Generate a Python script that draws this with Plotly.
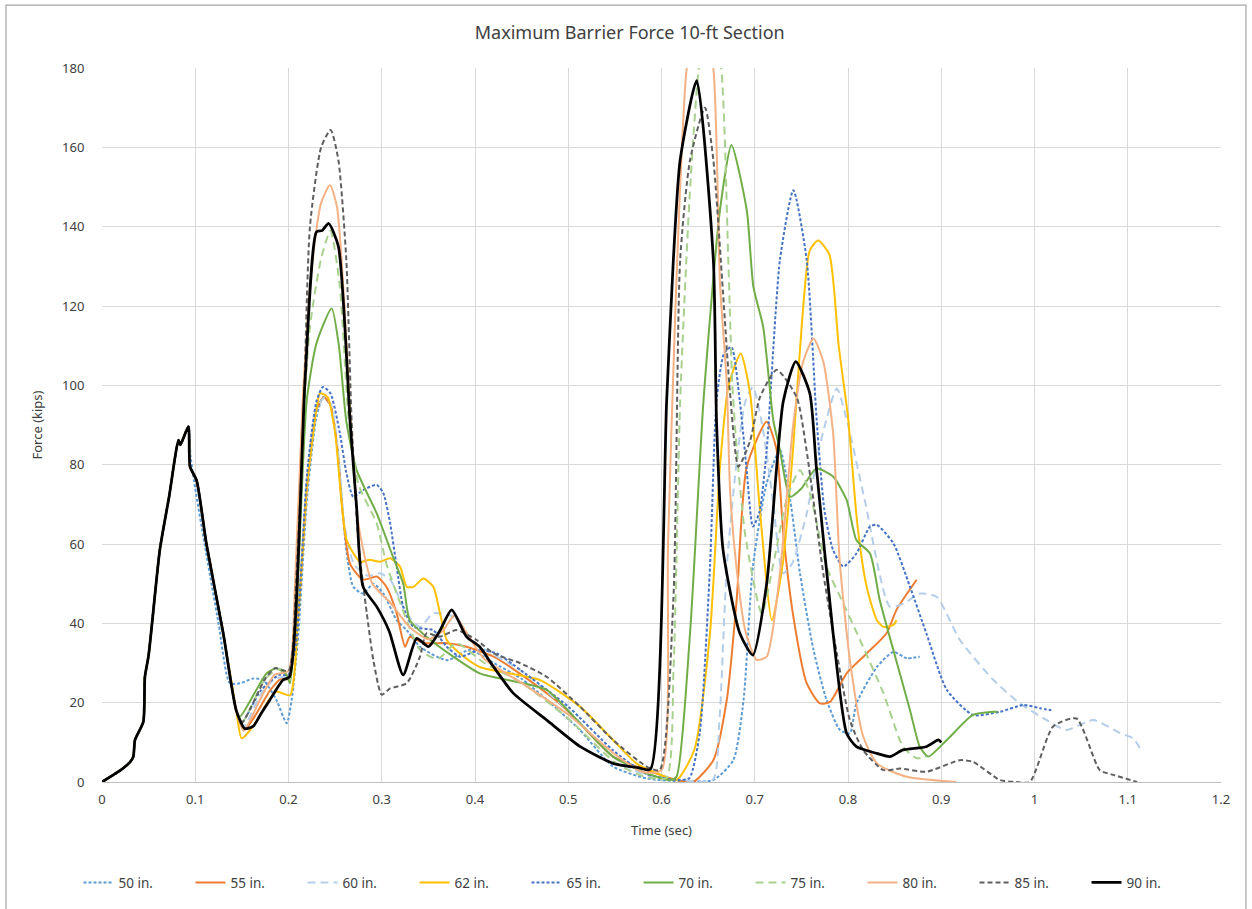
import plotly.graph_objects as go

# shared rising part (all runs coincide up to the first peak)
t_start = [0, 0.01, 0.02, 0.03, 0.0336, 0.0354, 0.0443, 0.046, 0.05, 0.062, 0.072, 0.082, 0.084, 0.0926]
f_start = [0, 1.5, 3, 5, 6.4, 10.6, 15.2, 26.5, 32, 58.5, 72, 86.2, 85, 89.6]

t50 = [0.095, 0.1, 0.11, 0.125, 0.137, 0.148, 0.1623, 0.173, 0.187, 0.198, 0.2034, 0.2106, 0.22, 0.23, 0.237, 0.245, 0.252, 0.2624, 0.2695, 0.28, 0.291, 0.3017, 0.316, 0.3267, 0.341, 0.3697, 0.3946, 0.42, 0.45, 0.477, 0.5126, 0.548, 0.584, 0.62, 0.6556, 0.677, 0.688, 0.698, 0.7128, 0.727, 0.738, 0.7485, 0.763, 0.777, 0.7914, 0.802, 0.809, 0.831, 0.8486, 0.863, 0.877]
f50 = [82, 74, 60, 40, 24.9, 24.9, 26.1, 25.7, 20.7, 14.8, 20.7, 37.5, 72, 92, 97, 95, 85, 57.6, 49.2, 47.5, 50, 47.5, 40.8, 38.3, 34.1, 30.7, 33.3, 30, 26, 20.7, 13.1, 3.9, 0.9, 0.2, 0.5, 5.5, 20.7, 54.3, 75.3, 83.7, 71.1, 52.6, 33.3, 20.7, 13.1, 12.3, 19.8, 29, 32.8, 31.2, 31.6]

t55 = [0.0944, 0.1015, 0.112, 0.13, 0.144, 0.152, 0.165, 0.18, 0.192, 0.2, 0.21, 0.22, 0.23, 0.238, 0.245, 0.252, 0.258, 0.266, 0.28, 0.2946, 0.305, 0.316, 0.325, 0.33, 0.3375, 0.348, 0.3697, 0.391, 0.42, 0.45, 0.4947, 0.548, 0.584, 0.62, 0.634, 0.6556, 0.67, 0.6806, 0.6914, 0.7128, 0.7235, 0.7306, 0.7414, 0.7557, 0.77, 0.7807, 0.7985, 0.82, 0.8414, 0.852, 0.8736]
f55 = [79.5, 76, 60, 37.5, 18, 13, 17, 23, 26, 26, 42, 75, 94, 97, 95, 85, 68, 55, 51, 51.8, 49.2, 42.5, 34.1, 36.6, 35.8, 35, 35, 34.1, 31.6, 27, 19, 6.4, 3, 0.3, 0, 5.5, 20.7, 45.9, 79.5, 90.8, 83.7, 62.7, 41.7, 24.9, 19.8, 20.2, 27.4, 32.4, 37.5, 43.4, 51]

t60 = [0.0944, 0.1015, 0.112, 0.13, 0.144, 0.152, 0.17, 0.185, 0.2, 0.21, 0.22, 0.23, 0.239, 0.246, 0.253, 0.26, 0.27, 0.285, 0.298, 0.309, 0.3267, 0.341, 0.355, 0.3767, 0.4, 0.45, 0.5, 0.55, 0.58, 0.62, 0.655, 0.662, 0.67, 0.68, 0.69, 0.698, 0.708, 0.72, 0.73, 0.74, 0.7557, 0.77, 0.788, 0.8, 0.818, 0.845, 0.86, 0.877, 0.895, 0.92, 0.956, 0.9845, 1.013, 1.034, 1.063, 1.092, 1.106, 1.115]
f60 = [79.5, 76, 60, 37.5, 18, 14, 22, 26, 27, 44, 76, 94, 97, 95, 84, 65, 55, 52, 52.6, 51, 42.5, 39.1, 42.5, 41.7, 35, 28, 18, 6, 2, 0.5, 0.5, 15, 54.3, 79.5, 96, 99.6, 90, 70, 52.6, 55, 67.7, 85, 99.2, 90, 71, 44.2, 45, 47.5, 46.7, 35.8, 25.7, 19.8, 15.6, 13.1, 15.6, 12.3, 11, 7.6]

t62 = [0.0944, 0.1015, 0.112, 0.13, 0.144, 0.1498, 0.165, 0.1766, 0.187, 0.2016, 0.21, 0.22, 0.23, 0.2338, 0.242, 0.25, 0.2624, 0.2767, 0.287, 0.298, 0.309, 0.3196, 0.3267, 0.334, 0.3446, 0.3553, 0.3625, 0.3697, 0.384, 0.405, 0.4697, 0.5126, 0.548, 0.573, 0.595, 0.616, 0.635, 0.652, 0.6627, 0.672, 0.685, 0.695, 0.705, 0.7184, 0.73, 0.741, 0.7485, 0.759, 0.768, 0.78, 0.79, 0.8, 0.81, 0.82, 0.831, 0.838, 0.8486, 0.852]
f62 = [79.5, 76, 60, 37.5, 18, 11, 15, 19.8, 22.8, 21.9, 40, 75, 94, 98, 97, 88, 61, 55.5, 56, 55.5, 56.4, 54.3, 49.2, 49.2, 51.3, 49.2, 42.5, 35.8, 32.4, 29, 25.7, 19, 10.6, 4.7, 2.2, 0.5, 8, 37.5, 79.5, 100, 108, 98, 70, 40.8, 55, 83.7, 109, 134, 136.5, 133, 110, 92, 65, 49.2, 40.8, 39.1, 39.6, 40.8]

t65 = [0.0944, 0.1015, 0.112, 0.13, 0.144, 0.15, 0.17, 0.19, 0.2, 0.208, 0.22, 0.23, 0.237, 0.245, 0.255, 0.262, 0.2695, 0.28, 0.2946, 0.3017, 0.309, 0.316, 0.323, 0.334, 0.355, 0.3697, 0.384, 0.405, 0.4233, 0.45, 0.5, 0.548, 0.584, 0.62, 0.63, 0.641, 0.652, 0.659, 0.667, 0.675, 0.684, 0.691, 0.698, 0.705, 0.7128, 0.727, 0.7414, 0.7557, 0.7664, 0.775, 0.784, 0.795, 0.809, 0.8236, 0.831, 0.8486, 0.8665, 0.884, 0.906, 0.934, 0.963, 0.988, 1.006, 1.018]
f65 = [79.5, 76, 60, 37.5, 18, 15, 23, 27, 27, 35, 78, 96, 99.6, 98, 88, 78, 71.9, 73.6, 74.9, 72.8, 65.2, 54.3, 44.2, 39.1, 38.3, 34.1, 31.6, 33.3, 32.4, 28, 19, 8, 2, 0.5, 1, 12.3, 54.3, 96, 108, 109.7, 96, 79.5, 64.4, 68, 83.7, 131.6, 149.2, 131.6, 91.2, 68, 58.5, 54.3, 57.6, 64.4, 64.8, 60.2, 49.2, 37.5, 23.2, 16.9, 17.7, 19.4, 18.6, 18.1]

t70 = [0.0944, 0.1015, 0.112, 0.13, 0.144, 0.148, 0.165, 0.1766, 0.187, 0.198, 0.2016, 0.209, 0.2195, 0.23, 0.2463, 0.254, 0.262, 0.273, 0.2946, 0.312, 0.323, 0.33, 0.348, 0.3767, 0.405, 0.45, 0.477, 0.5126, 0.548, 0.584, 0.609, 0.616, 0.6306, 0.645, 0.6627, 0.675, 0.6914, 0.6985, 0.709, 0.72, 0.727, 0.7378, 0.75, 0.766, 0.784, 0.7985, 0.809, 0.8236, 0.834, 0.8486, 0.8665, 0.877, 0.886, 0.906, 0.934, 0.956, 0.96]
f70 = [79.5, 76, 60, 37.5, 18, 16.5, 23, 27.4, 28.7, 27, 24.9, 45.9, 96, 110.6, 119.4, 110, 91, 78.7, 67.7, 56.8, 50, 40.8, 36.6, 31.6, 27.4, 25, 23.2, 14.8, 6.4, 2.2, 0.5, 1.3, 37.5, 96, 144.2, 160.6, 144.2, 124.9, 114.8, 91, 83.7, 71.9, 74, 79, 77, 71.1, 61, 57.6, 45.9, 33.3, 18.1, 8.9, 6.4, 10.6, 16.9, 17.7, 17.7]

t75 = [0.0944, 0.1015, 0.112, 0.13, 0.144, 0.15, 0.175, 0.19, 0.2, 0.208, 0.216, 0.223, 0.235, 0.245, 0.255, 0.265, 0.275, 0.2946, 0.305, 0.32, 0.341, 0.36, 0.38, 0.41, 0.45, 0.5, 0.55, 0.58, 0.605, 0.613, 0.62, 0.63, 0.64, 0.651, 0.664, 0.6716, 0.676, 0.682, 0.69, 0.7075, 0.72, 0.735, 0.7485, 0.76, 0.777, 0.795, 0.8129, 0.838, 0.859, 0.8736, 0.884]
f75 = [79.5, 76, 60, 37.5, 18, 15, 26, 28.5, 28, 45, 91, 114.8, 132, 139, 125, 90, 75, 65.2, 55, 45, 33.3, 31, 35, 30, 25, 16, 5, 1.5, 1, 29, 96, 147, 180, 195, 180, 131.6, 100, 80, 62, 42.5, 55, 72, 78.6, 72, 54.3, 45, 35.8, 22.4, 8.9, 6, 6.4]

t80 = [0.0944, 0.1015, 0.112, 0.13, 0.144, 0.152, 0.17, 0.185, 0.2, 0.207, 0.215, 0.225, 0.235, 0.2445, 0.252, 0.26, 0.267, 0.275, 0.29, 0.31, 0.33, 0.35, 0.365, 0.378, 0.39, 0.41, 0.45, 0.5, 0.55, 0.58, 0.6, 0.607, 0.615, 0.627, 0.641, 0.6556, 0.6627, 0.67, 0.6735, 0.68, 0.69, 0.702, 0.7128, 0.727, 0.741, 0.752, 0.763, 0.7735, 0.784, 0.791, 0.802, 0.8164, 0.831, 0.863, 0.9165]
f80 = [79.5, 76, 60, 37.5, 18, 13, 21, 27, 28, 50, 95, 130, 146, 150.5, 145, 120, 90, 65, 50, 45, 39, 36, 38, 42, 38, 31, 25, 17, 7, 2.5, 3, 60, 120, 180, 198, 180, 125.7, 100.5, 73.6, 55, 38, 30.8, 31.6, 52.6, 89.6, 106, 111.8, 106, 88, 56, 30.8, 11.4, 4.7, 1.3, 0]

t85 = [0.0944, 0.1015, 0.112, 0.13, 0.144, 0.15, 0.175, 0.1855, 0.2, 0.208, 0.216, 0.223, 0.235, 0.2452, 0.2535, 0.262, 0.2677, 0.275, 0.284, 0.291, 0.3, 0.309, 0.3267, 0.341, 0.348, 0.362, 0.38, 0.4018, 0.42, 0.448, 0.477, 0.5126, 0.548, 0.584, 0.598, 0.6127, 0.62, 0.6306, 0.6466, 0.6556, 0.666, 0.6735, 0.6825, 0.695, 0.7056, 0.7235, 0.745, 0.7555, 0.7735, 0.788, 0.802, 0.8164, 0.838, 0.856, 0.884, 0.92, 0.934, 0.963, 0.98, 0.995, 1.02, 1.045, 1.07, 1.0845, 1.11]
f85 = [79.5, 76, 60, 37.5, 18, 15, 26, 28.7, 28, 50, 91, 140, 160, 164.4, 156.8, 131.6, 91, 60, 42.5, 30.7, 22, 23.6, 24.9, 31.6, 37.5, 36.6, 38.3, 35.8, 32.4, 30, 26.5, 19, 10.6, 3.9, 3, 45.9, 131.6, 156.8, 170, 156.8, 123.2, 98, 79.5, 86, 97, 103.9, 97, 83.7, 52.6, 32.4, 15.6, 8, 3, 3.4, 2.6, 5.5, 5.1, 0.5, 0, 0, 14, 16, 3, 1.8, 0]

t90 = [0.0944, 0.1015, 0.112, 0.13, 0.144, 0.153, 0.162, 0.17, 0.18, 0.194, 0.201, 0.2177, 0.23, 0.236, 0.243, 0.2535, 0.266, 0.273, 0.28, 0.2946, 0.308, 0.323, 0.3375, 0.35, 0.362, 0.375, 0.391, 0.405, 0.42, 0.441, 0.477, 0.513, 0.548, 0.575, 0.588, 0.6055, 0.6127, 0.62, 0.6377, 0.6556, 0.659, 0.666, 0.684, 0.698, 0.7128, 0.7306, 0.744, 0.759, 0.766, 0.784, 0.7985, 0.809, 0.831, 0.845, 0.859, 0.884, 0.897, 0.9]
f90 = [79.5, 76, 60, 37.5, 18, 13.5, 14, 17, 20.7, 25.7, 26.5, 101, 138.7, 139, 140.8, 135, 91, 69.4, 49.2, 44.2, 38, 27, 36.2, 34.1, 38, 43.4, 36.6, 34.1, 29, 22.4, 15.6, 8.9, 4.7, 3.6, 3.2, 96, 131.6, 156.8, 176.8, 131.6, 91, 58.5, 37.5, 32, 50, 96, 106, 98, 79.5, 37.5, 12.3, 8.9, 7.2, 6.4, 8.1, 8.9, 10.6, 10]

series = [
    ("50 in.", t50, f50, "#5B9BD5", "3px,2px", 2),
    ("55 in.", t55, f55, "#ED7D31", "solid", 2),
    ("60 in.", t60, f60, "#B4CEEA", "8px,5px", 2),
    ("62 in.", t62, f62, "#FFC000", "solid", 2),
    ("65 in.", t65, f65, "#4472C4", "3px,2px", 2),
    ("70 in.", t70, f70, "#70AD47", "solid", 2),
    ("75 in.", t75, f75, "#A9D18E", "8px,5px", 2),
    ("80 in.", t80, f80, "#F4B183", "solid", 2),
    ("85 in.", t85, f85, "#5F5F5F", "5px,3px", 2),
    ("90 in.", t90, f90, "#000000", "solid", 2.75),
]

fig = go.Figure()
for name, t, f, color, dash, w in series:
    fig.add_trace(go.Scatter(x=t_start + t, y=f_start + f, mode="lines", name=name,
                             line=dict(color=color, dash=dash, width=w,
                                       shape="spline", smoothing=0.6)))

font = "Noto Sans, Liberation Sans, sans-serif"
txt = "#404040"
fig.update_layout(
    width=1252, height=909,
    margin=dict(l=102, r=31, t=68, b=127),
    paper_bgcolor="white", plot_bgcolor="white",
    font=dict(family=font, size=13, color=txt),
    title=dict(text="Maximum Barrier Force 10-ft Section", x=0.503, xref="container",
               y=0.964, yanchor="middle", font=dict(size=18, color=txt)),
    legend=dict(orientation="h", x=0.51, xref="container", xanchor="center",
                y=0.029, yref="container", yanchor="middle",
                font=dict(size=13.5, color=txt), itemwidth=30,
                entrywidth=67, entrywidthmode="pixels", tracegroupgap=0),
    shapes=[dict(type="rect", xref="paper", yref="paper",
                 x0=-0.0858, x1=1.0223, y0=-0.19, y1=1.088,
                 line=dict(color="#A6A6A6", width=1.2), layer="below")],
)
fig.update_xaxes(range=[0, 1.2], dtick=0.1, showgrid=True, gridcolor="#D9D9D9", gridwidth=1,
                 zeroline=False, showline=True, linecolor="#BFBFBF", linewidth=1,
                 ticks="outside", ticklen=5, tickcolor="rgba(0,0,0,0)",
                 tickfont=dict(size=13, color=txt),
                 title=dict(text="Time (sec)", standoff=19, font=dict(size=13, color=txt)))
fig.update_yaxes(range=[0, 180], dtick=20, showgrid=True, gridcolor="#D9D9D9", gridwidth=1,
                 zeroline=False, showline=False,
                 ticks="outside", ticklen=14, tickcolor="rgba(0,0,0,0)",
                 tickfont=dict(size=13, color=txt),
                 title=dict(text="Force (kips)", standoff=16, font=dict(size=13, color=txt)))

fig.write_html("out.html", config={"displayModeBar": False},
               post_script="document.body.style.margin='0px';")
